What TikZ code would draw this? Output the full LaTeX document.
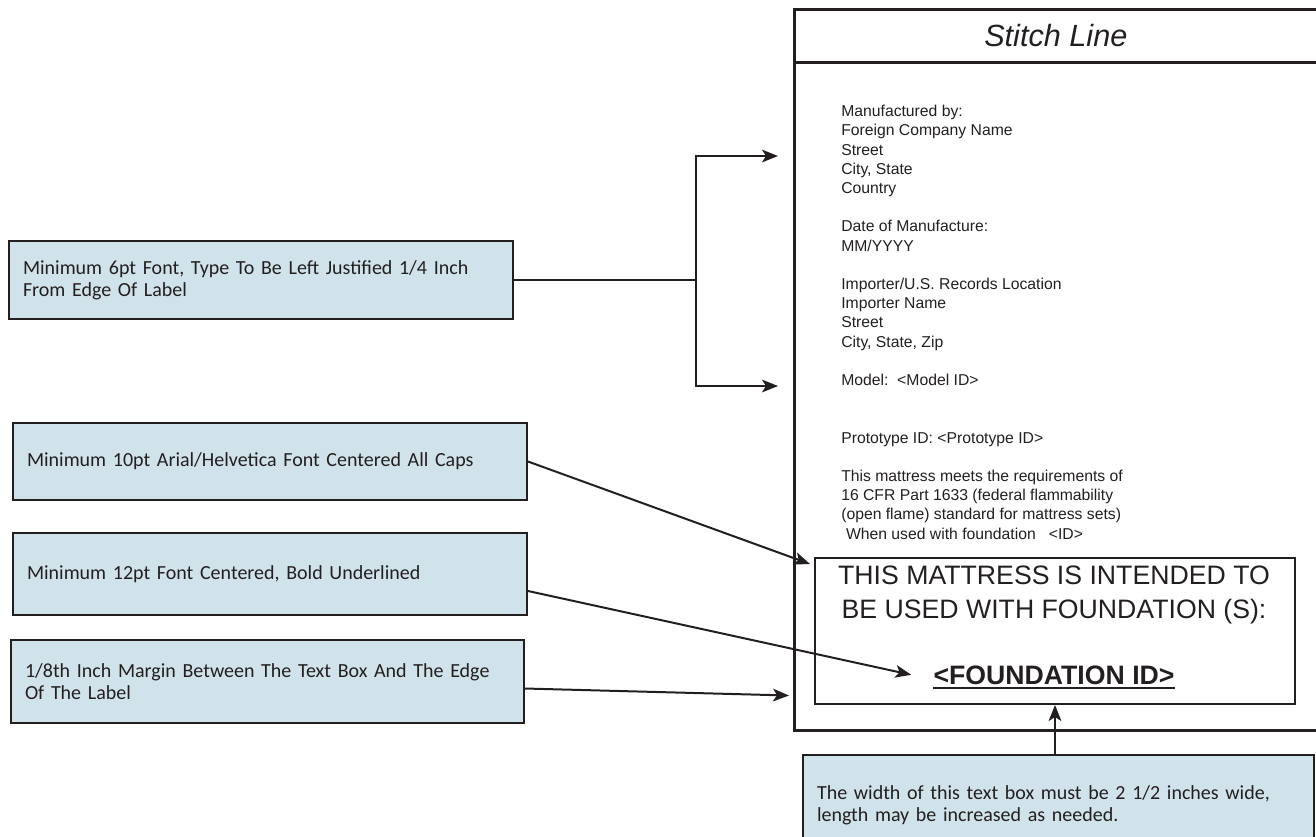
\documentclass[tikz,border=0pt]{standalone}
\usepackage{fontspec}
\setmainfont{Liberation Sans}
\newfontfamily\calibri[WordSpace=0.8]{Carlito}
\usetikzlibrary{arrows.meta,calc}
\definecolor{ink}{RGB}{35,31,32}
\definecolor{notefill}{RGB}{209,227,234}

\begin{document}
\begin{tikzpicture}[x=0.75pt,y=-0.75pt,
  notebox/.style={draw=ink,fill=notefill,line width=1.5pt,anchor=north west,
    inner xsep=10.5pt,inner ysep=0pt,align=left,text=ink,
    font=\calibri\fontsize{15pt}{16.5pt}\selectfont},
  arr/.style={draw=ink,line width=1.5pt,-{Stealth[length=12pt,width=9.5pt,inset=3pt]}},
  labeltext/.style={text=ink,inner sep=0pt,align=left,font=\fontsize{11.8pt}{14.4pt}\selectfont}]
\useasboundingbox (0,0) rectangle (1316,836);

\node[draw=ink,line width=2pt,anchor=north west,minimum width=392.25pt,minimum height=540.75pt] (label) at (793,8) {};
\node[draw=ink,line width=2pt,anchor=north west,minimum width=392.25pt,minimum height=39.75pt,
  text=ink,font=\itshape\fontsize{23pt}{27pt}\selectfont] (stitch) at (793,8) {Stitch Line};
\node[labeltext,anchor=north west] (mfg) at (841,105) {Manufactured by:\\Foreign Company Name\\Street\\City, State\\Country\\[14.4pt]Date of Manufacture:\\MM/YYYY\\[14.4pt]Importer/U.S. Records Location\\Importer Name\\Street\\City, State, Zip\\[14.4pt]Model:\ \ <Model ID>\\[28.8pt]Prototype ID: <Prototype ID>\\[14.4pt]This mattress meets the requirements of\\16 CFR Part 1633 (federal flammability\\(open flame) standard for mattress sets)\\\hspace*{0.3em}When used with foundation\ \ \ <ID>};

\node[draw=ink,line width=1.5pt,anchor=north west,minimum width=360pt,minimum height=109.5pt] (warnbox) at (814,557) {};
\node[text=ink,align=center,inner sep=0pt,font=\fontsize{20pt}{25.5pt}\selectfont] (intended) at (1054,595) {THIS MATTRESS IS INTENDED TO\\BE USED WITH FOUNDATION (S):};
\node[text=ink,inner sep=0pt,anchor=base,font=\bfseries\fontsize{20pt}{24pt}\selectfont] (fid) at (1054,684) {<FOUNDATION ID>};
\draw[ink,line width=1.5pt] ($(fid.base west)+(0,4)$) -- ($(fid.base east)+(0,4)$);

\node[notebox,text width=357pt,minimum height=58.5pt] (sixpt) at (8,240) {Minimum 6pt Font, Type To Be Left Justified 1/4 Inch\\From Edge Of Label};
\node[notebox,text width=364.5pt,minimum height=57.75pt] (tenpt) at (12,422) {Minimum 10pt Arial/Helvetica Font Centered All Caps};
\node[notebox,text width=364.5pt,minimum height=61.5pt] (twelvept) at (12,532) {Minimum 12pt Font Centered, Bold Underlined};
\node[notebox,text width=363.75pt,minimum height=62.25pt] (margin) at (10,639) {1/8th Inch Margin Between The Text Box And The Edge\\Of The Label};
\node[notebox,text width=362.25pt,minimum height=75pt] (widthnote) at (802,754) {The width of this text box must be 2 1/2 inches wide,\\length may be increased as needed.};

\coordinate (fork) at ($(sixpt.east)+(182,0)$);
\coordinate (toptip) at (778,156);
\coordinate (bottip) at (778,386);
\draw[ink,line width=1.5pt] (sixpt.east) -- (fork);
\draw[arr] (fork) |- (toptip);
\draw[arr] (fork) |- (bottip);
\draw[arr] (tenpt.east) -- ($(warnbox.north west)+(-4,7)$);
\draw[arr] ($(twelvept.east)+(0,17)$) -- ($(fid.west)+(-22,0)$);
\draw[arr] ($(margin.east)+(0,7)$) -- ($(label.west |- margin.east)+(-4,14)$);
\draw[arr] (widthnote.north -| warnbox.south) -- (warnbox.south);
\end{tikzpicture}
\end{document}
